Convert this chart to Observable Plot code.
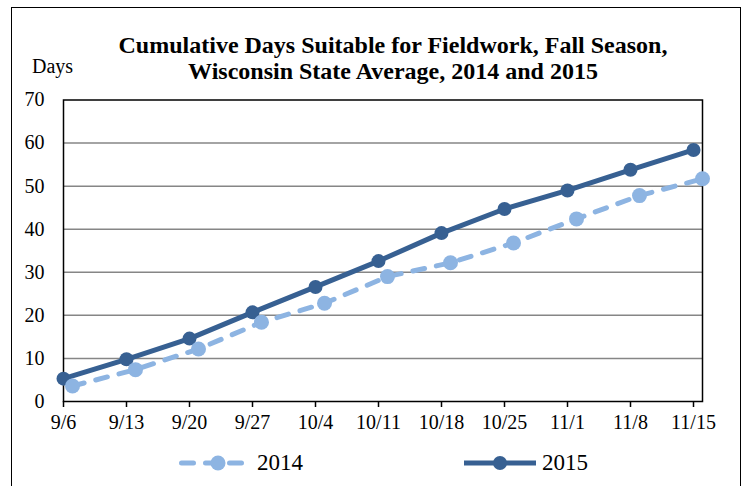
<!DOCTYPE html>
<html><head><meta charset="utf-8">
<script src="https://cdn.jsdelivr.net/npm/d3@7"></script>
<script src="https://cdn.jsdelivr.net/npm/@observablehq/plot@0.6"></script>
<style>
body{margin:0;background:#fff;font-family:"Liberation Serif","Times New Roman",serif;color:#000;}
#wrap{position:relative;width:743px;height:486px;overflow:hidden;background:#fff;}
#border{position:absolute;left:11px;top:7px;width:730px;height:520px;border:1.5px solid #000;box-sizing:border-box;}
#title{position:absolute;left:0;width:786px;top:32px;text-align:center;font-weight:bold;font-size:24px;line-height:26px;white-space:nowrap;}
#ylabel{position:absolute;left:32px;top:56px;font-size:20px;line-height:20px;}
#chart{position:absolute;left:0;top:88px;}
.leg{position:absolute;top:451px;height:24px;}
.leg svg{position:absolute;left:0;top:0;}
.leg span{position:absolute;top:-2px;font-size:23px;line-height:28px;white-space:nowrap;}
</style>
</head><body>
<div id="wrap">
  <div id="border"></div>
  <div id="title">Cumulative Days Suitable for Fieldwork, Fall Season,<br>Wisconsin State Average, 2014 and 2015</div>
  <div id="ylabel">Days</div>
  <div id="chart"></div>
  <div id="legend"></div>
</div>
<script>
// Week labels (2015 weeks ending), day offsets from 9/6
const weekLabels = ["9/6","9/13","9/20","9/27","10/4","10/11","10/18","10/25","11/1","11/8","11/15"];
const weekDays = [0,7,14,21,28,35,42,49,56,63,70];
// 2014 weeks end one day later in the calendar
const days2014 = [1,8,15,22,29,36,43,50,57,64,71];
const values2014 = [3.6, 7.4, 12.2, 18.4, 22.8, 29.0, 32.2, 36.8, 42.4, 47.8, 51.7];
const values2015 = [5.3, 9.8, 14.6, 20.7, 26.6, 32.6, 39.1, 44.7, 49.0, 53.8, 58.4];
const yTicks = [0,10,20,30,40,50,60,70];
const gridLines = [10,20,30,40,50,60];
const seriesNames = ["2014","2015"];
const seriesColors = ["#8DB4E2","#376092"];

const d2014 = days2014.map((d,i)=>({day:d, value:values2014[i]}));
const d2015 = weekDays.map((d,i)=>({day:d, value:values2015[i]}));

const chart = Plot.plot({
  width: 743, height: 355,
  marginLeft: 63, marginRight: 41, marginTop: 11.5, marginBottom: 42,
  style: {fontFamily: '"Liberation Serif","Times New Roman",serif', fontSize: "20px", color: "#000", background: "transparent"},
  x: {type: "linear", domain: [0, 71], label: null},
  y: {domain: [0, 70], label: null},
  marks: [
    Plot.ruleY(gridLines, {stroke: "#868686", strokeWidth: 1.5}),
    Plot.frame({stroke: "#000", strokeWidth: 1.5}),
    Plot.axisY({ticks: yTicks, tickSize: 0, tickPadding: 19, tickFormat: d => String(d), fontSize: 20, label: null}),
    Plot.axisX({ticks: weekDays, tickSize: 6, tickPadding: 7, strokeWidth: 1.5, fontSize: 20, label: null,
      tickFormat: d => weekLabels[weekDays.indexOf(d)]}),
    Plot.line(d2015, {x: "day", y: "value", stroke: seriesColors[1], strokeWidth: 5}),
    Plot.dot(d2015, {x: "day", y: "value", r: 7, fill: seriesColors[1]}),
    Plot.line(d2014, {x: "day", y: "value", stroke: seriesColors[0], strokeWidth: 5, strokeDasharray: "12,12", strokeLinecap: "round"}),
    Plot.dot(d2014, {x: "day", y: "value", r: 7.5, fill: seriesColors[0]})
  ]
});
document.getElementById("chart").appendChild(chart);

// Legend
const legendPos = [{sw: 179, tx: 257}, {sw: 464, tx: 542}];
const legend = document.getElementById("legend");
seriesNames.forEach((name, i) => {
  const div = document.createElement("div");
  div.className = "leg";
  div.style.left = legendPos[i].sw + "px";
  const dash = i === 0 ? 'stroke-dasharray="12,12" stroke-linecap="round"' : 'stroke-linecap="round"';
  div.innerHTML = `<svg width="72" height="24"><line x1="${i===0?2.5:0}" x2="${i===0?67:72}" y1="12" y2="12" stroke="${seriesColors[i]}" stroke-width="5" ${dash}/><circle cx="${i===0?39:36}" cy="12" r="${i===0?7.5:7}" fill="${seriesColors[i]}"/></svg><span style="left:${legendPos[i].tx - legendPos[i].sw}px">${name}</span>`;
  legend.appendChild(div);
});
</script>
</body></html>
